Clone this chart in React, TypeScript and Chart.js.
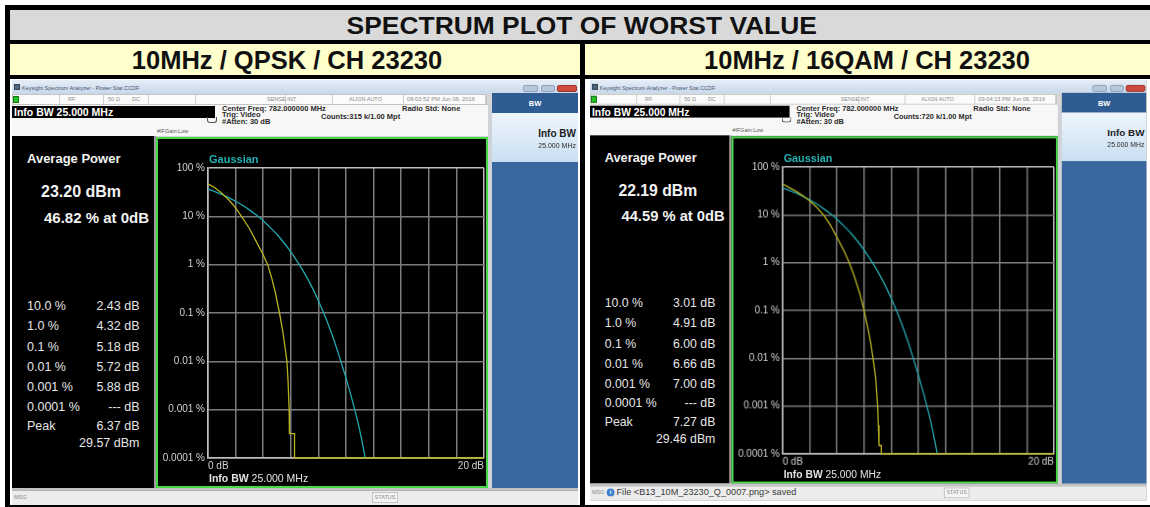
import React, { useEffect, useRef } from 'react';
import { Chart, registerables } from 'chart.js';

Chart.register(...registerables);

const FONT = '"Liberation Sans", Arial, Helvetica, sans-serif';

const pageTitle = 'SPECTRUM PLOT OF WORST VALUE';
const columnTitles = ['10MHz / QPSK / CH 23230', '10MHz / 16QAM / CH 23230'];

// Gaussian reference trace (cyan): dB above average power vs probability (%)
const gaussianDb = [0, 0.5, 1, 1.5, 2, 2.5, 3, 3.5, 4, 4.5, 5, 5.5, 6, 6.5, 7, 7.5, 8, 8.5, 9, 9.5, 10, 10.5, 11, 11.4];
const gaussianPct = [36.8, 32.6, 28.4, 24.3, 20.5, 16.9, 13.6, 10.6, 8.1, 5.9, 4.2, 2.84, 1.84, 1.13, 0.66, 0.36, 0.18, 0.083, 0.035, 0.013, 0.0045, 0.0014, 0.00037, 0.0001];

// Measured trace (yellow), QPSK
const qpskDb = [0, 0.5, 1, 1.5, 2, 2.43, 3, 3.5, 4, 4.32, 4.6, 4.9, 5.18, 5.4, 5.6, 5.72, 5.8, 5.88, 5.9, 6.27, 6.27, 20];
const qpskPct = [46.82, 39, 30, 22, 15, 10, 5.6, 3.0, 1.6, 1.0, 0.55, 0.25, 0.1, 0.045, 0.018, 0.01, 0.004, 0.001, 0.00032, 0.00032, 0.0001, 0.0001];

// Measured trace (yellow), 16QAM
const qam16Db = [0, 0.5, 1, 1.5, 2, 2.5, 3.01, 3.5, 4, 4.5, 4.91, 5.3, 5.7, 6.0, 6.3, 6.5, 6.66, 6.85, 7.0, 7.05, 7.1, 7.27, 7.27, 20];
const qam16Pct = [44.59, 37, 31, 25, 19.5, 14.5, 10, 6.2, 3.4, 1.8, 1.0, 0.5, 0.22, 0.1, 0.04, 0.02, 0.01, 0.004, 0.001, 0.0004, 0.00015, 0.00015, 0.0001, 0.0001];

const yTickValues = [0.0001, 0.001, 0.01, 0.1, 1, 10, 100];
const yTickLabels = ['0.0001 %', '0.001 %', '0.01 %', '0.1 %', '1 %', '10 %', '100 %'];
const xTickValues = [0, 2, 4, 6, 8, 10, 12, 14, 16, 18, 20];
const xEdgeLabels = ['0 dB', '20 dB'];

const statLevels = ['10.0 %', '1.0 %', '0.1 %', '0.01 %', '0.001 %', '0.0001 %'];
const qpskStatValues = ['2.43 dB', '4.32 dB', '5.18 dB', '5.72 dB', '5.88 dB', '--- dB'];
const qam16StatValues = ['3.01 dB', '4.91 dB', '6.00 dB', '6.66 dB', '7.00 dB', '--- dB'];

const gridColor = '#7c7c7c';
const frameColor = '#bdbdbd';
const labelColor = '#d2d2d2';

function Txt(props: any) {
  const { x, y, size, bold, color, right, center, children } = props;
  let transform: string | undefined;
  if (right) transform = 'translateX(-100%)';
  if (center) transform = 'translateX(-50%)';
  return (
    <div
      style={{
        position: 'absolute',
        left: x,
        top: y - 0.59 * size,
        fontSize: size,
        lineHeight: `${size * 1.2}px`,
        fontWeight: bold ? 700 : 400,
        color,
        whiteSpace: 'nowrap',
        fontFamily: FONT,
        transform,
      }}
    >
      {children}
    </div>
  );
}

function Box(props: any) {
  const { x, y, w, h, style } = props;
  return <div style={{ position: 'absolute', left: x, top: y, width: w, height: h, boxSizing: 'border-box', ...style }} />;
}

function CcdfChart({ measDb, measPct }: { measDb: number[]; measPct: number[] }) {
  const ref = useRef<HTMLCanvasElement | null>(null);
  useEffect(() => {
    if (!ref.current) return;
    const toPts = (xs: number[], ys: number[]) => xs.map((x, i) => ({ x, y: ys[i] }));
    const lastX = xTickValues.length - 1;
    const lastY = yTickValues.length - 1;
    const chart = new Chart(ref.current, {
      type: 'line',
      data: {
        datasets: [
          {
            label: 'Measured',
            data: toPts(measDb, measPct),
            borderColor: '#b8b220',
            borderWidth: 1.3,
            pointRadius: 0,
            tension: 0,
            clip: 3,
          } as any,
          {
            label: 'Gaussian',
            data: toPts(gaussianDb, gaussianPct),
            borderColor: '#22a8ae',
            borderWidth: 1.3,
            pointRadius: 0,
            tension: 0.2,
            clip: 3,
          } as any,
        ],
      },
      options: {
        animation: false,
        responsive: false,
        maintainAspectRatio: false,
        devicePixelRatio: 1,
        layout: { padding: { left: 0, right: 1, top: 29, bottom: 0 } },
        plugins: { legend: { display: false }, tooltip: { enabled: false } },
        scales: {
          x: {
            type: 'linear',
            min: 0,
            max: 20,
            afterBuildTicks: (s: any) => {
              s.ticks = xTickValues.map((v) => ({ value: v }));
            },
            afterFit: (s: any) => {
              s.height = 28;
            },
            grid: {
              color: (c: any) => (c.index === 0 || c.index === lastX ? frameColor : gridColor),
              lineWidth: 1.5,
              drawTicks: false,
            },
            border: { color: frameColor, width: 1.5 },
            ticks: {
              autoSkip: false,
              maxRotation: 0,
              align: 'inner',
              padding: 2,
              color: labelColor,
              font: { family: FONT, size: 10 },
              callback: (v: any) =>
                v === xTickValues[0] ? xEdgeLabels[0] : v === xTickValues[lastX] ? xEdgeLabels[1] : '',
            },
          } as any,
          y: {
            type: 'logarithmic',
            min: yTickValues[0],
            max: yTickValues[lastY],
            afterBuildTicks: (s: any) => {
              s.ticks = yTickValues.map((v) => ({ value: v }));
            },
            afterFit: (s: any) => {
              s.width = 50;
            },
            grid: {
              color: (c: any) => (c.index === 0 || c.index === lastY ? frameColor : gridColor),
              lineWidth: 1.5,
              drawTicks: false,
            },
            border: { color: frameColor, width: 1.5 },
            ticks: {
              autoSkip: false,
              padding: 3,
              color: labelColor,
              font: { family: FONT, size: 10 },
              callback: (v: any) => {
                const i = yTickValues.findIndex((t) => Math.abs(Math.log10(t) - Math.log10(v)) < 1e-6);
                return i >= 0 ? yTickLabels[i] : '';
              },
            },
          } as any,
        },
      },
    });
    return () => chart.destroy();
  }, [measDb, measPct]);
  return (
    <canvas
      ref={ref}
      width={328}
      height={347}
      style={{ position: 'absolute', left: 146, top: 59, width: 328, height: 347 }}
    />
  );
}

type ShotProps = {
  x: number;
  y: number;
  sx: number;
  sy: number;
  avgPower: string;
  atZero: string;
  statValues: string[];
  peakDb: string;
  peakDbm: string;
  time: string;
  counts: string;
  msg: string;
  measDb: number[];
  measPct: number[];
};

const statusSeparators = [47, 91, 136, 183, 273, 320, 391, 473];

function Screenshot(p: ShotProps) {
  const tiny = '#8a8a8a';
  return (
    <div
      style={{
        position: 'absolute',
        left: p.x,
        top: p.y,
        width: 566,
        height: 425,
        transform: `scale(${p.sx}, ${p.sy})`,
        transformOrigin: '0 0',
        background: '#d6d6d6',
        overflow: 'hidden',
        fontFamily: FONT,
      }}
    >
      {/* window title bar */}
      <Box x={0} y={0} w={566} h={14} style={{ background: 'linear-gradient(#e6edf6, #c8d7e9)' }} />
      <Box x={2} y={4} w={6} h={6} style={{ background: '#51657c', border: '1px solid #324457' }} />
      <Txt x={10} y={8.5} size={5.5} color="#44566e">Keysight Spectrum Analyzer - Power Stat CCDF</Txt>
      <Box x={511} y={5} w={15} h={7} style={{ background: '#b9c8da', border: '1px solid #8ea2bb', borderRadius: 2 }} />
      <Box x={529} y={5} w={14} h={7} style={{ background: '#b9c8da', border: '1px solid #8ea2bb', borderRadius: 2 }} />
      <Box x={545} y={5} w={20} h={7} style={{ background: '#cd4a3c', border: '1px solid #9e3328', borderRadius: 2 }} />

      {/* status row */}
      <Box x={0} y={14} w={475} h={11} style={{ background: '#fbfbfb', border: '1px solid #c4c4c4' }} />
      {statusSeparators.map((sx) => (
        <Box key={sx} x={sx} y={15} w={1} h={9} style={{ background: '#cfcfcf' }} />
      ))}
      <Box x={1} y={16} w={6} h={7} style={{ background: '#27c227', border: '1px solid #137a13' }} />
      <Txt x={56} y={19.5} size={5.5} color={tiny}>RF</Txt>
      <Txt x={96} y={19.5} size={5.5} color={tiny}>50 Ω</Txt>
      <Txt x={120} y={19.5} size={5.5} color={tiny}>DC</Txt>
      <Txt x={255} y={19.5} size={5.5} color={tiny}>SENSE:INT</Txt>
      <Txt x={337} y={19.5} size={5.5} color={tiny}>ALIGN AUTO</Txt>
      <Txt x={395} y={19.5} size={5.8} color={tiny}>{p.time}</Txt>

      {/* measurement info area */}
      <Box x={0} y={25} w={476} h={31} style={{ background: '#f7f7f7' }} />
      <Box x={0} y={26} w={203} h={12} style={{ background: '#000' }} />
      <Txt x={2} y={32} size={10.5} bold color="#ffffff">Info BW 25.000 MHz</Txt>
      <Txt x={145} y={51} size={5.5} color="#5a5a5a">#IFGain:Low</Txt>
      <Box x={195} y={37} w={10} h={6} style={{ border: '1px solid #555', borderTop: 'none', borderRadius: '0 0 3px 3px' }} />
      <Txt x={210} y={28.3} size={7.5} bold color="#2a2a2a">Center Freq: 782.000000 MHz</Txt>
      <Txt x={210} y={34.7} size={7.5} bold color="#2a2a2a">Trig: Video</Txt>
      <Txt x={210} y={41} size={7.5} bold color="#2a2a2a">#Atten: 30 dB</Txt>
      <Txt x={309} y={36} size={7.5} bold color="#2a2a2a">{p.counts}</Txt>
      <Txt x={390} y={28.3} size={7.5} bold color="#2a2a2a">Radio Std: None</Txt>

      {/* left black result panel */}
      <Box x={0} y={56} w={142} h={352} style={{ background: '#000' }} />
      <Box x={142} y={56} w={2} h={352} style={{ background: '#9c9c9c' }} />
      <Txt x={15} y={79} size={13} bold color="#f2f2f2">Average Power</Txt>
      <Txt x={29} y={111.7} size={16} bold color="#f2f2f2">{p.avgPower}</Txt>
      <Txt x={32} y={138} size={15} bold color="#f2f2f2">{p.atZero}</Txt>
      {statLevels.map((lv, i) => (
        <React.Fragment key={lv}>
          <Txt x={15} y={226.7 + i * 20.1} size={12.5} color="#e6e6e6">{lv}</Txt>
          <Txt x={127.5} y={226.7 + i * 20.1} size={12.5} color="#e6e6e6" right>{p.statValues[i]}</Txt>
        </React.Fragment>
      ))}
      <Txt x={15} y={346} size={12.5} color="#e6e6e6">Peak</Txt>
      <Txt x={127.5} y={346} size={12.5} color="#e6e6e6" right>{p.peakDb}</Txt>
      <Txt x={127.5} y={363.3} size={12.5} color="#e6e6e6" right>{p.peakDbm}</Txt>

      {/* green graph window */}
      <Box x={144} y={57} w={332} h={351} style={{ background: '#000', border: '2px solid #46d846' }} />
      <CcdfChart measDb={p.measDb} measPct={p.measPct} />
      <Txt x={197} y={79} size={11} bold color="#25b0b4">Gaussian</Txt>
      <div
        style={{
          position: 'absolute',
          left: 197,
          top: 398.3 - 0.59 * 10.5,
          fontSize: 10.5,
          lineHeight: `${10.5 * 1.2}px`,
          color: '#e2e2e2',
          whiteSpace: 'nowrap',
          fontFamily: FONT,
        }}
      >
        <b>Info BW</b> 25.000 MHz
      </div>

      {/* right soft-key panel */}
      <Box x={476} y={25} w={4} h={383} style={{ background: '#cfd3d8' }} />
      <Box x={480} y={13} w={86} h={20} style={{ background: '#2e5c93' }} />
      <Txt x={523} y={23.5} size={7.5} bold color="#ffffff" center>BW</Txt>
      <Box x={480} y={33} w={86} h={49} style={{ background: 'linear-gradient(#eef6fd, #c9dff1)' }} />
      <Txt x={564} y={53.5} size={10} bold color="#1b1b1b" right>Info BW</Txt>
      <Txt x={564} y={66} size={7} color="#2a2a2a" right>25.000 MHz</Txt>
      <Box x={480} y={82} w={86} h={326} style={{ background: '#3a67a0' }} />

      {/* bottom status bar */}
      <Box x={0} y={408} w={566} h={2} style={{ background: '#c2c2c2' }} />
      <Box x={0} y={410} w={566} h={15} style={{ background: '#ececec', borderTop: '1px solid #b4b4b4' }} />
      <Txt x={2} y={417.5} size={5.5} color={tiny}>MSG</Txt>
      {p.msg ? (
        <>
          <div
            style={{
              position: 'absolute',
              left: 17,
              top: 413,
              width: 8,
              height: 8,
              borderRadius: 4,
              background: '#3d7fd0',
              color: '#fff',
              fontSize: 6,
              lineHeight: '8px',
              textAlign: 'center',
              fontWeight: 700,
              fontFamily: FONT,
            }}
          >
            i
          </div>
          <Txt x={27} y={417.5} size={9.3} color="#3a3a3a">{p.msg}</Txt>
        </>
      ) : null}
      <Box x={360} y={412} w={26} h={11} style={{ border: '1px solid #c4c4c4', background: '#f4f4f4' }} />
      <Txt x={373} y={417.5} size={5.5} color={tiny} center>STATUS</Txt>
    </div>
  );
}

export default function App() {
  return (
    <div
      style={{
        position: 'absolute',
        left: 0,
        top: 0,
        width: 1150,
        height: 507,
        background: '#ffffff',
        overflow: 'hidden',
        fontFamily: FONT,
      }}
    >
      <Box x={5} y={5} w={1170} h={520} style={{ background: '#000' }} />
      <Box x={10} y={10} w={1160} h={30} style={{ background: '#d9d9d9' }} />
      <div
        style={{
          position: 'absolute',
          left: 0,
          top: 26 - 0.59 * 24,
          width: 1164,
          textAlign: 'center',
          fontSize: 24,
          lineHeight: '28.8px',
          fontWeight: 700,
          color: '#111',
          whiteSpace: 'nowrap',
        }}
      >
        <span style={{ display: 'inline-block', transform: 'scaleX(1.1)' }}>{pageTitle}</span>
      </div>

      <Box x={10} y={44} w={570} h={31} style={{ background: '#ffffcc' }} />
      <Box x={585} y={44} w={590} h={31} style={{ background: '#ffffcc' }} />
      <Txt x={287} y={60} size={25.5} bold color="#111" center>{columnTitles[0]}</Txt>
      <Txt x={867} y={60} size={25.5} bold color="#111" center>{columnTitles[1]}</Txt>

      <Box x={10} y={79} w={570} h={426} style={{ background: '#ffffff' }} />
      <Box x={585} y={79} w={590} h={426} style={{ background: '#ffffff' }} />

      <Screenshot
        x={12}
        y={80}
        sx={1}
        sy={1}
        avgPower="23.20 dBm"
        atZero="46.82 % at 0dB"
        statValues={qpskStatValues}
        peakDb="6.37 dB"
        peakDbm="29.57 dBm"
        time="09:03:52 PM Jun 06, 2016"
        counts="Counts:315 k/1.00 Mpt"
        msg=""
        measDb={qpskDb}
        measPct={qpskPct}
      />
      <Screenshot
        x={590}
        y={80}
        sx={0.983}
        sy={0.989}
        avgPower="22.19 dBm"
        atZero="44.59 % at 0dB"
        statValues={qam16StatValues}
        peakDb="7.27 dB"
        peakDbm="29.46 dBm"
        time="09:04:13 PM Jun 06, 2016"
        counts="Counts:720 k/1.00 Mpt"
        msg="File <B13_10M_23230_Q_0007.png> saved"
        measDb={qam16Db}
        measPct={qam16Pct}
      />
    </div>
  );
}
